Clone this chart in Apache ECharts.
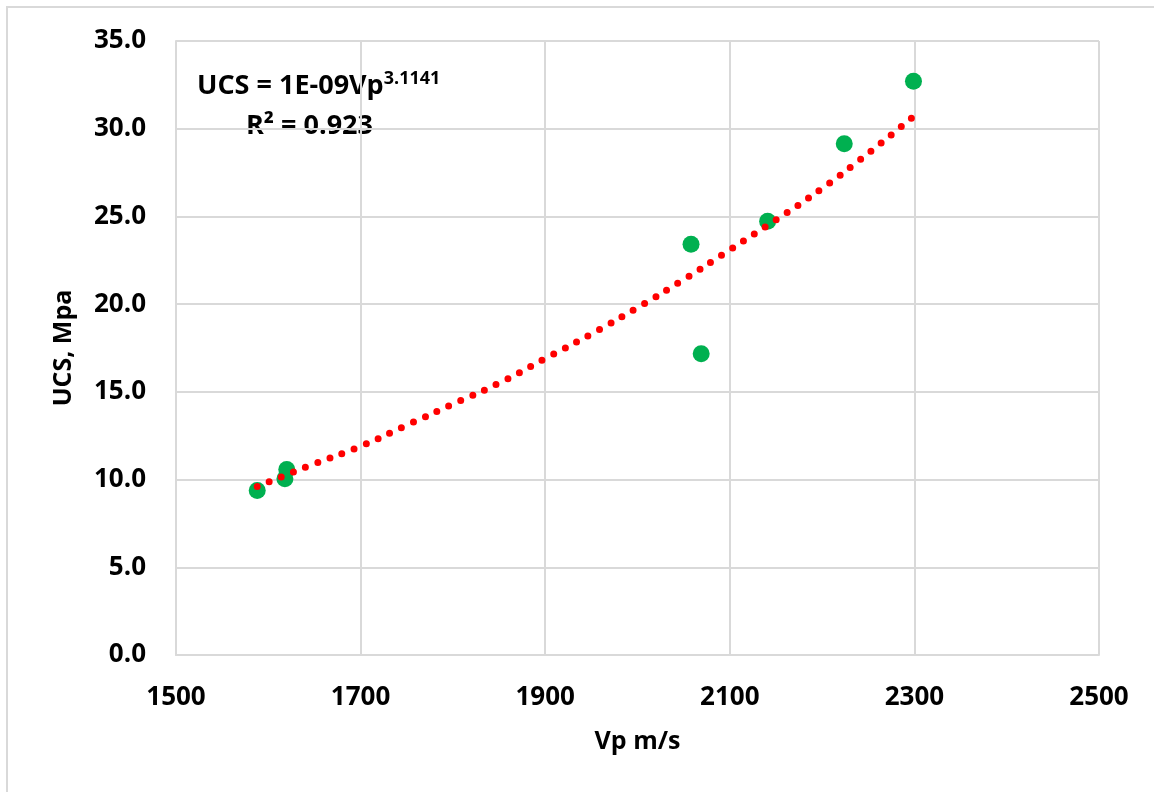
<!DOCTYPE html>
<html>
<head>
<meta charset="utf-8">
<script src="https://cdn.jsdelivr.net/npm/echarts@6/dist/echarts.min.js"></script>
<style>
  html, body { margin: 0; padding: 0; background: #fff; }
  #chart { width: 1154px; height: 792px; }
</style>
</head>
<body>
<div id="chart"></div>
<script>
  // measured samples
  var vp = [1588, 1618, 1620, 2058, 2069, 2141, 2224, 2299];
  var ucs = [9.38, 10.05, 10.58, 23.42, 17.17, 24.73, 29.14, 32.71];

  // power trendline
  var trendVp = [1588, 1650, 1700, 1750, 1800, 1850, 1900, 1950, 2000, 2050, 2100, 2150, 2200, 2250, 2299];
  var trendUcs = [9.6, 10.9, 11.9, 13.1, 14.3, 15.5, 16.9, 18.3, 19.8, 21.4, 23.1, 24.8, 26.6, 28.6, 30.7];

  var xTicks = [1500, 1700, 1900, 2100, 2300, 2500];
  var yTicks = [0, 5, 10, 15, 20, 25, 30, 35];

  var FONT = '"Open Sans", sans-serif';
  var GRID_COLOR = '#d9d9d9';

  var chart = echarts.init(document.getElementById('chart'));

  chart.setOption({
    animation: false,
    backgroundColor: '#fff',
    grid: {
      left: 176,
      right: 55,
      top: 41,
      bottom: 137
    },
    xAxis: {
      type: 'value',
      min: xTicks[0],
      max: xTicks[xTicks.length - 1],
      interval: 200,
      name: 'Vp m/s',
      nameLocation: 'middle',
      nameGap: 74,
      nameTextStyle: {
        fontFamily: FONT, fontWeight: 'bold', fontSize: 25, color: '#000'
      },
      axisLine: { show: true, lineStyle: { color: GRID_COLOR, width: 2 } },
      axisTick: { show: false },
      splitLine: { show: true, lineStyle: { color: GRID_COLOR, width: 2 } },
      axisLabel: {
        margin: 30,
        fontFamily: FONT, fontWeight: 'bold', fontSize: 26, color: '#000',
        formatter: function (v) { return String(v); }
      }
    },
    yAxis: {
      type: 'value',
      min: yTicks[0],
      max: yTicks[yTicks.length - 1],
      interval: 5,
      name: 'UCS, Mpa',
      nameLocation: 'middle',
      nameRotate: 90,
      nameGap: 100,
      nameTextStyle: {
        fontFamily: FONT, fontWeight: 'bold', fontSize: 25, color: '#000'
      },
      axisLine: { show: true, lineStyle: { color: GRID_COLOR, width: 2 } },
      axisTick: { show: false },
      splitLine: { show: true, lineStyle: { color: GRID_COLOR, width: 2 } },
      axisLabel: {
        margin: 30,
        fontFamily: FONT, fontWeight: 'bold', fontSize: 26, color: '#000',
        formatter: function (v) { return v.toFixed(1); }
      }
    },
    series: [{
      type: 'scatter',
      symbol: 'circle',
      symbolSize: 17,
      itemStyle: { color: '#00B050', opacity: 1 },
      data: vp.map(function (v, i) { return [v, ucs[i]]; }),
      z: 2
    }, {
      type: 'line',
      smooth: true,
      symbol: 'none',
      lineStyle: {
        color: '#FF0000',
        width: 7,
        type: [0, 13],
        cap: 'round'
      },
      data: trendVp.map(function (v, i) { return [v, trendUcs[i]]; }),
      z: 3
    }],
    graphic: [{
      // chart frame (left/top edges)
      type: 'polyline',
      shape: { points: [[7, 792], [7, 7], [1154, 7]] },
      style: { stroke: GRID_COLOR, lineWidth: 2, fill: null },
      silent: true
    }, {
      type: 'text',
      left: 197,
      top: 70,
      style: {
        text: '{b|UCS = 1E-09Vp}{s|3.1141}',
        rich: {
          b: { fontFamily: FONT, fontWeight: 'bold', fontSize: 27, fill: '#000', verticalAlign: 'bottom' },
          s: { fontFamily: FONT, fontWeight: 'bold', fontSize: 18, fill: '#000', verticalAlign: 'top', padding: [0, 0, 12, 0] }
        }
      }
    }, {
      type: 'text',
      left: 246,
      top: 113,
      style: {
        text: 'R² = 0.923',
        fontFamily: FONT, fontWeight: 'bold', fontSize: 27, fill: '#000'
      }
    }]
  });
</script>
</body>
</html>
